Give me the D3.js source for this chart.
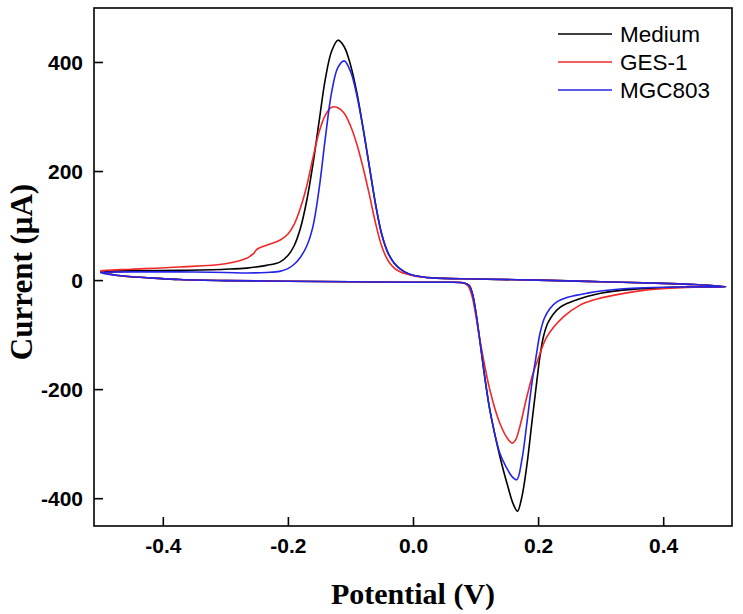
<!DOCTYPE html>
<html>
<head>
<meta charset="utf-8">
<script src="https://cdn.jsdelivr.net/npm/d3@7"></script>
<style>
  html, body { margin: 0; padding: 0; background: #fff; }
  svg { display: block; }
</style>
</head>
<body>
<svg id="chart" width="743" height="614"></svg>
<script>
// ---- Data (potential V, current µA), traced in scan order ----
const seriesNames = ["Medium", "GES-1", "MGC803"];
const seriesColors = ["#000000", "#f02828", "#2424e6"];

const medium = [
  [-0.5,15],[-0.49,16],[-0.45,17],[-0.373,18],[-0.3,20],[-0.266,22],[-0.234,27],[-0.213,33],
  [-0.2,45],[-0.19,63],[-0.18,95],[-0.17,145],[-0.16,212],[-0.15,292],[-0.14,370],
  [-0.13,420],[-0.12,440],[-0.11,428],[-0.1,395],[-0.09,345],[-0.08,280],[-0.07,210],
  [-0.06,140],[-0.05,84],[-0.04,50],[-0.03,31],[-0.02,20],[-0.01,13],
  [0,9],[0.03,4],[0.1,2],[0.2,0],[0.3,-3],[0.4,-6],[0.45,-8],[0.5,-12],
  [0.45,-12.5],[0.4,-14],[0.35,-17],[0.3,-24],[0.278,-30],[0.26,-37],[0.246,-43],[0.235,-50],
  [0.2245,-62],[0.215,-80],[0.2085,-104],[0.203,-140],[0.198,-185],[0.19,-262],[0.182,-340],
  [0.174,-398],[0.167,-424],[0.16,-410],[0.152,-380],[0.139,-324],[0.123,-239],[0.115,-180],
  [0.107,-112],[0.1,-55],[0.095,-25],[0.09,-10],[0.08,-5],[0.05,-4],[0,-4],[-0.1,-3],
  [-0.2,-2],[-0.3,-1],[-0.373,1],[-0.42,4],[-0.45,6],[-0.475,9],[-0.49,12],[-0.5,15]
];

const ges1 = [
  [-0.5,17],[-0.49,18],[-0.45,20],[-0.373,24],[-0.3,30],[-0.266,40],[-0.258,46],[-0.2544,49],
  [-0.25,56],[-0.234,64],[-0.213,73],[-0.1995,85],[-0.19,102],[-0.18,132],[-0.17,172],
  [-0.16,224],[-0.15,272],[-0.14,303],[-0.13,317],[-0.12,316],[-0.11,306],[-0.1,283],
  [-0.09,250],[-0.08,207],[-0.07,158],[-0.06,105],[-0.05,62],[-0.04,36],[-0.03,22],
  [-0.02,15],[-0.01,11],[0,8],[0.03,4],[0.1,2],[0.2,0],
  [0.3,-3],[0.4,-6],[0.45,-8],[0.5,-12],
  [0.45,-13],[0.427,-14],[0.374,-18],[0.32,-28],[0.29,-36],[0.267,-46],[0.24,-68],[0.214,-104],
  [0.2,-145],[0.192,-171],[0.182,-214],[0.171,-268],[0.164,-293],[0.1585,-299],[0.152,-292],
  [0.139,-263],[0.123,-202],[0.107,-110],[0.1,-62],[0.094,-28],[0.088,-11],[0.08,-5],
  [0.05,-4],[0,-4],[-0.1,-3],[-0.2,-2],[-0.3,-1],[-0.373,1],[-0.42,4],[-0.45,6],
  [-0.475,9],[-0.49,13],[-0.5,17]
];

const mgc803 = [
  [-0.5,14],[-0.49,14.5],[-0.45,15],[-0.373,15],[-0.3,14],[-0.266,13],[-0.234,14],
  [-0.213,16],[-0.2,21],[-0.19,29],[-0.18,42],[-0.17,62],[-0.16,98],[-0.15,168],
  [-0.14,262],[-0.13,345],[-0.12,390],[-0.11,402],[-0.1,383],[-0.09,340],[-0.08,280],
  [-0.07,210],[-0.06,140],[-0.05,84],[-0.04,50],[-0.03,31],[-0.02,20],[-0.01,13],
  [0,9],[0.03,4],[0.1,2],[0.2,0],[0.3,-3],[0.4,-6],[0.45,-8],[0.5,-12],
  [0.45,-12.5],[0.4,-13],[0.35,-15],[0.3,-20],[0.278,-24],[0.26,-28],[0.246,-32],[0.23,-40],
  [0.219,-52],[0.21,-70],[0.203,-98],[0.1975,-135],[0.19,-190],[0.182,-263],[0.174,-330],
  [0.166,-366],[0.158,-360],[0.15,-345],[0.139,-318],[0.123,-239],[0.115,-180],
  [0.107,-112],[0.1,-55],[0.095,-25],[0.09,-10],[0.08,-5],
  [0.05,-4],[0,-4],[-0.1,-3],[-0.2,-2],[-0.3,-1],[-0.373,1],[-0.42,4],[-0.45,6],
  [-0.475,9],[-0.49,11],[-0.5,14]
];

const seriesData = [medium, ges1, mgc803];
const xTicks = [-0.4, -0.2, 0.0, 0.2, 0.4];
const yTicks = [-400, -200, 0, 200, 400];
const xDomain = [-0.51, 0.51];
const yDomain = [-451, 499];

// ---- Layout ----
const svg = d3.select("#chart");
const mLeft = 94, mRight = 732, mTop = 8, mBottom = 526;

const x = d3.scaleLinear().domain(xDomain).range([mLeft, mRight]);
const y = d3.scaleLinear().domain(yDomain).range([mBottom, mTop]);

// Curves
const line = d3.line()
  .x(d => x(d[0]))
  .y(d => y(d[1]))
  .curve(d3.curveCatmullRom.alpha(0.5));

const plot = svg.append("g");
plot.append("defs").append("clipPath").attr("id", "clip")
  .append("rect").attr("x", mLeft).attr("y", mTop).attr("width", mRight - mLeft).attr("height", mBottom - mTop);

seriesData.forEach((d, i) => {
  plot.append("path")
    .datum(d)
    .attr("d", line)
    .attr("fill", "none")
    .attr("stroke", seriesColors[i])
    .attr("stroke-width", 1.6)
    .attr("stroke-linejoin", "round")
    .attr("clip-path", "url(#clip)");
});

// Frame
svg.append("rect")
  .attr("x", mLeft).attr("y", mTop)
  .attr("width", mRight - mLeft).attr("height", mBottom - mTop)
  .attr("fill", "none").attr("stroke", "#000").attr("stroke-width", 1.6);

// Axes (inward ticks)
const xAxis = d3.axisBottom(x).tickValues(xTicks).tickSizeInner(-9).tickSizeOuter(0)
  .tickFormat(d3.format(".1f"));
const gx = svg.append("g").attr("transform", `translate(0,${mBottom})`).call(xAxis);
gx.select(".domain").remove();
gx.selectAll(".tick line").attr("stroke", "#000").attr("stroke-width", 1.6);
gx.selectAll(".tick text")
  .attr("y", 27).attr("dy", 0)
  .attr("font-family", "Liberation Sans, Arial, sans-serif")
  .attr("font-weight", "bold").attr("font-size", 21).attr("fill", "#000")
  .text(d => d3.format(".1f")(d).replace("−", "-"));

const yAxis = d3.axisLeft(y).tickValues(yTicks).tickSizeInner(-9).tickSizeOuter(0)
  .tickFormat(d => String(d));
const gy = svg.append("g").attr("transform", `translate(${mLeft},0)`).call(yAxis);
gy.select(".domain").remove();
gy.selectAll(".tick line").attr("stroke", "#000").attr("stroke-width", 1.6);
gy.selectAll(".tick text")
  .attr("x", -11).attr("dy", "0.36em")
  .attr("font-family", "Liberation Sans, Arial, sans-serif")
  .attr("font-weight", "bold").attr("font-size", 21).attr("fill", "#000");

// Axis titles
svg.append("text")
  .attr("x", 413).attr("y", 604)
  .attr("text-anchor", "middle")
  .attr("font-family", "Liberation Serif, 'Times New Roman', serif")
  .attr("font-weight", "bold").attr("font-size", 30)
  .text("Potential (V)");

svg.append("text")
  .attr("transform", "translate(32,272) rotate(-90)")
  .attr("text-anchor", "middle")
  .attr("font-family", "Liberation Serif, 'Times New Roman', serif")
  .attr("font-weight", "bold").attr("font-size", 31)
  .text("Current (μA)");

// Legend
const legendRows = [34, 62, 90];
const legend = svg.append("g");
seriesNames.forEach((name, i) => {
  legend.append("line")
    .attr("x1", 558).attr("x2", 612)
    .attr("y1", legendRows[i]).attr("y2", legendRows[i])
    .attr("stroke", seriesColors[i]).attr("stroke-width", 1.6);
  legend.append("text")
    .attr("x", 620).attr("y", legendRows[i]).attr("dy", "0.36em")
    .attr("font-family", "Liberation Sans, Arial, sans-serif")
    .attr("font-size", 22.5).attr("fill", "#000")
    .text(name);
});
</script>
</body>
</html>
